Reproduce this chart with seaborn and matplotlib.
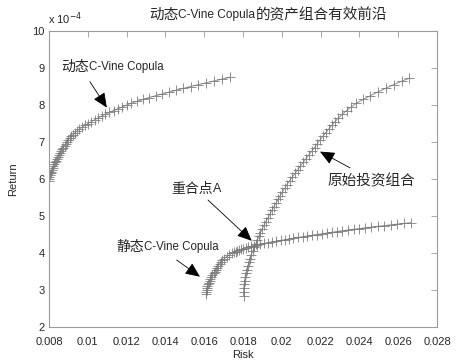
import matplotlib
matplotlib.use("Agg")
import matplotlib.pyplot as plt
import seaborn as sns
import pandas as pd

# Efficient frontiers: return in units of 1e-4, risk as standard deviation
dyn_return = [5.95, 6.00, 6.05, 6.10, 6.15, 6.20, 6.25, 6.30, 6.35, 6.40,
              6.45, 6.50, 6.55, 6.60, 6.65, 6.70, 6.75, 6.80, 6.85, 6.90,
              6.95, 7.00, 7.05, 7.10, 7.15, 7.20, 7.25, 7.30, 7.35, 7.40,
              7.45, 7.50, 7.55, 7.60, 7.65, 7.70, 7.75, 7.80, 7.85, 7.90,
              7.95, 8.00, 8.05, 8.10, 8.15, 8.20, 8.25, 8.30, 8.35, 8.40,
              8.45, 8.50, 8.55, 8.60, 8.65, 8.70, 8.75]
dyn_risk = [0.00800, 0.00801, 0.00802, 0.00805, 0.00808, 0.00811, 0.00815, 0.00819, 0.00823, 0.00828,
            0.00832, 0.00837, 0.00842, 0.00847, 0.00852, 0.00858, 0.00863, 0.00869, 0.00874, 0.00880,
            0.00886, 0.00892, 0.00899, 0.00907, 0.00915, 0.00924, 0.00934, 0.00945, 0.00957, 0.00970,
            0.00985, 0.01001, 0.01018, 0.01035, 0.01053, 0.01071, 0.01090, 0.01111, 0.01133, 0.01155,
            0.01178, 0.01201, 0.01225, 0.01254, 0.01284, 0.01315, 0.01349, 0.01384, 0.01420, 0.01456,
            0.01493, 0.01530, 0.01570, 0.01610, 0.01650, 0.01691, 0.01733]

sta_return = [2.88, 2.95, 3.00, 3.05, 3.10, 3.15, 3.20, 3.25, 3.30, 3.35,
              3.40, 3.45, 3.50, 3.55, 3.60, 3.65, 3.70, 3.75, 3.80, 3.85,
              3.90, 3.95, 4.00, 4.02, 4.04, 4.06, 4.08, 4.10, 4.12, 4.14,
              4.16, 4.18, 4.20, 4.22, 4.24, 4.26, 4.28, 4.30, 4.32, 4.34,
              4.36, 4.38, 4.40, 4.42, 4.44, 4.46, 4.48, 4.50, 4.52, 4.54,
              4.56, 4.58, 4.60, 4.62, 4.64, 4.66, 4.68, 4.70, 4.72, 4.74,
              4.76, 4.78, 4.80, 4.82]
sta_risk = [0.01610, 0.01611, 0.01612, 0.01614, 0.01617, 0.01620, 0.01624, 0.01628, 0.01632, 0.01637,
            0.01642, 0.01648, 0.01654, 0.01660, 0.01665, 0.01672, 0.01679, 0.01686, 0.01694, 0.01704,
            0.01715, 0.01729, 0.01745, 0.01753, 0.01762, 0.01771, 0.01780, 0.01790, 0.01801, 0.01813,
            0.01826, 0.01840, 0.01855, 0.01872, 0.01890, 0.01910, 0.01930, 0.01950, 0.01972, 0.01994,
            0.02016, 0.02038, 0.02060, 0.02084, 0.02108, 0.02132, 0.02156, 0.02180, 0.02206, 0.02232,
            0.02258, 0.02284, 0.02310, 0.02340, 0.02370, 0.02400, 0.02430, 0.02460, 0.02494, 0.02528,
            0.02562, 0.02596, 0.02630, 0.02665]

orig_return = [2.85, 2.95, 3.05, 3.15, 3.25, 3.35, 3.45, 3.55, 3.65, 3.75,
               3.85, 3.95, 4.05, 4.15, 4.25, 4.35, 4.45, 4.55, 4.65, 4.75,
               4.85, 4.95, 5.05, 5.15, 5.25, 5.35, 5.45, 5.55, 5.65, 5.75,
               5.85, 5.95, 6.05, 6.15, 6.25, 6.35, 6.45, 6.55, 6.65, 6.75,
               6.85, 6.95, 7.05, 7.15, 7.25, 7.35, 7.45, 7.55, 7.65, 7.75,
               7.85, 7.95, 8.05, 8.15, 8.25, 8.35, 8.45, 8.55, 8.65, 8.72]
orig_risk = [0.01803, 0.01803, 0.01804, 0.01806, 0.01809, 0.01812, 0.01816, 0.01820, 0.01825, 0.01830,
             0.01836, 0.01843, 0.01850, 0.01858, 0.01866, 0.01874, 0.01882, 0.01890, 0.01899, 0.01908,
             0.01918, 0.01928, 0.01938, 0.01948, 0.01959, 0.01970, 0.01981, 0.01992, 0.02003, 0.02015,
             0.02027, 0.02040, 0.02054, 0.02068, 0.02082, 0.02096, 0.02110, 0.02124, 0.02139, 0.02154,
             0.02169, 0.02182, 0.02196, 0.02211, 0.02226, 0.02242, 0.02258, 0.02274, 0.02292, 0.02312,
             0.02334, 0.02358, 0.02385, 0.02420, 0.02456, 0.02494, 0.02535, 0.02577, 0.02620, 0.02655]

x_ticks = [0.008, 0.01, 0.012, 0.014, 0.016, 0.018, 0.02, 0.022, 0.024, 0.026, 0.028]
x_tick_labels = ["0.008", "0.01", "0.012", "0.014", "0.016", "0.018", "0.02",
                 "0.022", "0.024", "0.026", "0.028"]
y_ticks = [2, 3, 4, 5, 6, 7, 8, 9, 10]

sns.set_style("white")
plt.rcParams["font.family"] = ["Liberation Sans", "Noto Sans CJK SC", "DejaVu Sans"]

CJK = ["Noto Sans CJK SC", "DejaVu Sans"]
LATIN = ["Liberation Sans", "DejaVu Sans"]
AXIS_GREY = "#9a9a9a"
MARK_GREY = "#7a7a7a"

fig = plt.figure(figsize=(4.61, 3.64), dpi=100)
ax = fig.add_axes([49 / 461, 1 - 327 / 364, 388 / 461, 296 / 364])

frames = [
    pd.DataFrame({"risk": dyn_risk, "ret": dyn_return}),
    pd.DataFrame({"risk": sta_risk, "ret": sta_return}),
    pd.DataFrame({"risk": orig_risk, "ret": orig_return}),
]
for df in frames:
    sns.lineplot(data=df, x="risk", y="ret", ax=ax, sort=False, estimator=None,
                 color=MARK_GREY, lw=0.7, marker="+", markersize=7,
                 markeredgewidth=0.7, markeredgecolor=MARK_GREY, alpha=0.85)

ax.set_xlim(0.008, 0.028)
ax.set_ylim(2, 10)
ax.set_xticks(x_ticks)
ax.set_xticklabels(x_tick_labels)
ax.set_yticks(y_ticks)
ax.tick_params(direction="in", length=4, width=0.6, color=AXIS_GREY,
               labelsize=8, top=True, right=True)
ax.tick_params(axis="x", pad=7)
ax.tick_params(axis="y", pad=3)
for s in ax.spines.values():
    s.set_visible(True)
    s.set_color(AXIS_GREY)
    s.set_linewidth(0.8)

ax.set_xlabel("Risk", fontsize=8, labelpad=2)
ax.set_ylabel("Return", fontsize=8, labelpad=10)
fig.text(48 / 461, 1 - 19 / 364, r"x 10$^{-4}$", fontsize=8, va="center", ha="left")


def mixed_label(x, y, parts, coords="data"):
    """Draw a run of text pieces left to right, each with its own font."""
    prev = None
    for text, fam, size in parts:
        if prev is None:
            prev = ax.annotate(text, xy=(x, y), xycoords=coords, fontsize=size,
                               family=fam, va="center", ha="left")
        else:
            prev = ax.annotate(text, xy=(1, 0.5), xycoords=prev, fontsize=size,
                               family=fam, va="center", ha="left")
    return prev


# title
mixed_label(0.258, 1.055, [("动态", CJK, 10.5), ("C-Vine Copula", LATIN, 8.6),
                            ("的资产组合有效前沿", CJK, 10.5)], coords="axes fraction")

arrow = dict(arrowstyle="-|>,head_length=0.9,head_width=0.4", color="black",
             lw=0.6, shrinkA=0, shrinkB=0)

mixed_label(0.00862, 9.03, [("动态", CJK, 10), ("C-Vine Copula", LATIN, 8.3)])
ax.annotate("", xy=(0.01098, 7.93), xytext=(0.01011, 8.63), arrowprops=arrow)

mixed_label(0.01149, 4.17, [("静态", CJK, 10), ("C-Vine Copula", LATIN, 8.3)])
ax.annotate("", xy=(0.01578, 3.36), xytext=(0.01458, 3.81), arrowprops=arrow)

mixed_label(0.01432, 5.73, [("重合点", CJK, 10), ("A", LATIN, 9)])
ax.annotate("", xy=(0.01845, 4.33), xytext=(0.0162, 5.43), arrowprops=arrow)

mixed_label(0.02238, 5.93, [("原始投资组合", CJK, 10.5)])
ax.annotate("", xy=(0.02197, 6.74), xytext=(0.02352, 6.30), arrowprops=arrow)

fig.savefig("out.png", dpi=100)
